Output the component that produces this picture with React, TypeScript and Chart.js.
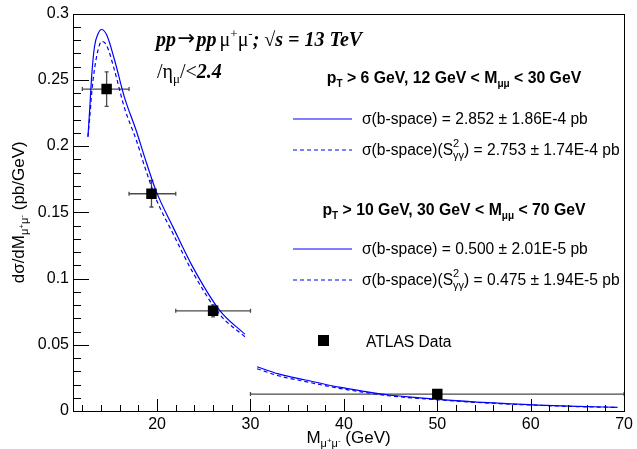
import { useEffect, useRef } from "react";
import { Chart, registerables } from "chart.js";

Chart.register(...registerables);

// ATLAS exclusive dimuon measurement: bin centres, edges, values and errors
const dataMass = [14.6, 19.4, 26, 50];
const dataSigma = [0.243, 0.164, 0.0756, 0.0128];
const dataMassLow = [12, 17, 22, 30];
const dataMassHigh = [17, 22, 30, 70];
const dataSigmaErr = [0.013, 0.01, 0.0045, 0.0008];

// b-space prediction, pT > 6 GeV, 12 < M < 30 GeV
const massLow = [12.6, 12.8, 13.0, 13.3, 13.7, 14.05, 14.6, 15.45, 16.5, 17.8, 18.65, 19.9, 21.7, 23.8, 26.7, 29.4];
const sigmaLow = [0.207, 0.229, 0.253, 0.275, 0.285, 0.288, 0.284, 0.265, 0.237, 0.211, 0.192, 0.166, 0.139, 0.109, 0.076, 0.058];
const sigmaLowS2 = [0.207, 0.222, 0.24, 0.258, 0.273, 0.279, 0.276, 0.257, 0.229, 0.204, 0.185, 0.16, 0.134, 0.105, 0.073, 0.056];

// b-space prediction, pT > 10 GeV, 30 < M < 70 GeV
const massHigh = [30.7, 33, 35.9, 39.5, 42, 44.8, 47.5, 50.1, 55.4, 60.8, 65, 69.3];
const sigmaHigh = [0.0334, 0.028, 0.0234, 0.018, 0.015, 0.0121, 0.0103, 0.0088, 0.0063, 0.0045, 0.0035, 0.0028];
const sigmaHighS2 = [0.0319, 0.0266, 0.0222, 0.0171, 0.0143, 0.0115, 0.0098, 0.0084, 0.006, 0.0043, 0.0033, 0.0027];

// axis ticks
const xTicks = [20, 30, 40, 50, 60, 70];
const yTicks = [0, 0.05, 0.1, 0.15, 0.2, 0.25, 0.3];

// legend numbers
const lowRangeResults = ["2.852 ± 1.86E-4 pb", "2.753 ± 1.74E-4 pb"];
const highRangeResults = ["0.500 ± 2.01E-5 pb", "0.475 ± 1.94E-5 pb"];

const SANS = "'Liberation Sans', Arial, Helvetica, sans-serif";
const SERIF = "'Liberation Serif', 'Times New Roman', serif";
const BLUE = "#0000ff";

type Run = { t: string; f: string; dy?: number; stack?: boolean };

function drawRuns(ctx: CanvasRenderingContext2D, x: number, y: number, runs: Run[], align: "left" | "center" = "left") {
  // lay the runs out left to right; stacked runs share the previous run's x
  const out: number[] = [];
  let cx = 0, prevStart = 0, maxEnd = 0;
  for (const r of runs) {
    ctx.font = r.f;
    const w = ctx.measureText(r.t).width;
    const start = r.stack ? prevStart : Math.max(cx, maxEnd);
    out.push(start);
    maxEnd = Math.max(maxEnd, start + w);
    prevStart = start;
    cx = start + w;
  }
  const x0 = align === "center" ? x - maxEnd / 2 : x;
  ctx.textAlign = "left";
  ctx.textBaseline = "alphabetic";
  runs.forEach((r, i) => {
    ctx.font = r.f;
    ctx.fillText(r.t, x0 + out[i], y + (r.dy || 0));
  });
}

const framePlugin = {
  id: "rootFrame",
  beforeDatasetsDraw(chart: any) {
    const ctx: CanvasRenderingContext2D = chart.ctx;
    const xs = chart.scales.x;
    const ys = chart.scales.y;
    ctx.save();
    ctx.strokeStyle = "#4a4a4a";
    ctx.lineWidth = 1.3;
    for (let i = 0; i < dataMass.length; i++) {
      const px = xs.getPixelForValue(dataMass[i]);
      const py = ys.getPixelForValue(dataSigma[i]);
      const xl = xs.getPixelForValue(dataMassLow[i]);
      const xh = xs.getPixelForValue(dataMassHigh[i]);
      const yt = ys.getPixelForValue(dataSigma[i] + dataSigmaErr[i]);
      const yb = ys.getPixelForValue(dataSigma[i] - dataSigmaErr[i]);
      ctx.beginPath();
      ctx.moveTo(xl, py); ctx.lineTo(xh, py);
      ctx.moveTo(xl, py - 2); ctx.lineTo(xl, py + 2);
      ctx.moveTo(xh, py - 2); ctx.lineTo(xh, py + 2);
      ctx.moveTo(px, yt); ctx.lineTo(px, yb);
      ctx.moveTo(px - 2, yt); ctx.lineTo(px + 2, yt);
      ctx.moveTo(px - 2, yb); ctx.lineTo(px + 2, yb);
      ctx.stroke();
    }
    ctx.restore();
  },
  afterDraw(chart: any) {
    const ctx: CanvasRenderingContext2D = chart.ctx;
    const { left, right, top, bottom } = chart.chartArea;
    const xs = chart.scales.x;
    const ys = chart.scales.y;
    ctx.save();
    ctx.strokeStyle = "#000";
    ctx.lineWidth = 1;
    // frame
    ctx.strokeRect(Math.round(left) + 0.5, Math.round(top) + 0.5, Math.round(right - left), Math.round(bottom - top));
    // y ticks, inside the frame
    ctx.beginPath();
    for (let k = 0; k <= 30; k++) {
      const v = k * 0.01;
      const py = Math.round(ys.getPixelForValue(v)) + 0.5;
      const len = k % 5 === 0 ? 16 : 8;
      ctx.moveTo(left, py); ctx.lineTo(left + len, py);
    }
    // x ticks, inside the frame
    for (let v = 12; v <= 70; v += 2) {
      const px = Math.round(xs.getPixelForValue(v)) + 0.5;
      const len = v % 10 === 0 ? 12 : 6;
      ctx.moveTo(px, bottom); ctx.lineTo(px, bottom - len);
    }
    ctx.stroke();

    ctx.fillStyle = "#000";
    // process label
    const bi20 = `italic bold 20px ${SERIF}`;
    const r20 = `20px ${SERIF}`;
    const r13 = `13px ${SERIF}`;
    const gap = `6px ${SERIF}`;
    drawRuns(ctx, 156, 46, [
      { t: "pp", f: bi20 },
      { t: " ", f: gap },
      { t: "\u2192", f: `21px 'DejaVu Sans', ${SERIF}`, dy: -1 },
      { t: " ", f: gap },
      { t: "pp", f: bi20 },
      { t: "  ", f: gap },
      { t: "\u03bc", f: r20 },
      { t: "+", f: r13, dy: -8 },
      { t: "\u03bc", f: r20 },
      { t: "-", f: r13, dy: -8 },
      { t: "; ", f: bi20 },
      { t: "\u221a", f: r20 },
      { t: "s = 13 TeV", f: bi20 },
    ]);
    drawRuns(ctx, 157, 78, [
      { t: "/\u03b7", f: r20 },
      { t: "\u03bc", f: r13, dy: 5 },
      { t: "/<", f: r20 },
      { t: "2.4", f: bi20 },
    ]);

    // legend blocks
    const b16 = `bold 15.8px ${SANS}`;
    const b10 = `bold 10px ${SANS}`;
    const s16 = `15.6px ${SANS}`;
    const s11 = `11px ${SANS}`;
    const header = (y: number, pt: string, lo: string, hi: string) =>
      drawRuns(ctx, 454, y, [
        { t: "p", f: b16 },
        { t: "T", f: b10, dy: 4 },
        { t: ` > ${pt} GeV, ${lo} GeV < M`, f: b16 },
        { t: "\u03bc\u03bc", f: b10, dy: 4 },
        { t: ` < ${hi} GeV`, f: b16 },
      ], "center");
    const entry = (y: number, dashed: boolean, result: string) => {
      ctx.save();
      ctx.strokeStyle = BLUE;
      ctx.lineWidth = 1.2;
      ctx.setLineDash(dashed ? [4, 3] : []);
      ctx.beginPath();
      ctx.moveTo(293, y - 5);
      ctx.lineTo(352, y - 5);
      ctx.stroke();
      ctx.restore();
      if (!dashed) {
        drawRuns(ctx, 362, y, [{ t: `\u03c3(b-space) = ${result}`, f: s16 }]);
      } else {
        drawRuns(ctx, 362, y, [
          { t: "\u03c3(b-space)(S", f: s16 },
          { t: "2", f: s11, dy: -8 },
          { t: "\u03b3\u03b3", f: s11, dy: 4, stack: true },
          { t: `) = ${result}`, f: s16 },
        ]);
      }
    };
    header(83, "6", "12", "30");
    entry(124, false, lowRangeResults[0]);
    entry(155, true, lowRangeResults[1]);
    header(215, "10", "30", "70");
    entry(254, false, highRangeResults[0]);
    entry(285, true, highRangeResults[1]);

    // data legend
    ctx.fillStyle = "#000";
    ctx.fillRect(318, 335, 11, 11);
    drawRuns(ctx, 366, 347, [{ t: "ATLAS Data", f: s16 }]);

    // axis titles
    const t17 = `17px ${SANS}`;
    const t11 = `11px ${SANS}`;
    const t8 = `8px ${SANS}`;
    drawRuns(ctx, (left + right) / 2, 443, [
      { t: "M", f: t17 },
      { t: "\u03bc", f: t11, dy: 4 },
      { t: "+", f: t8, dy: 0 },
      { t: "\u03bc", f: t11, dy: 4 },
      { t: "-", f: t8, dy: 0 },
      { t: " (GeV)", f: t17 },
    ], "center");
    ctx.save();
    ctx.translate(24, (top + bottom) / 2);
    ctx.rotate(-Math.PI / 2);
    drawRuns(ctx, 0, 0, [
      { t: "d\u03c3/dM", f: t17 },
      { t: "\u03bc", f: t11, dy: 4 },
      { t: "+", f: t8, dy: 0 },
      { t: "\u03bc", f: t11, dy: 4 },
      { t: "-", f: t8, dy: 0 },
      { t: " (pb/GeV)", f: t17 },
    ], "center");
    ctx.restore();
    ctx.restore();
  },
};

export default function App() {
  const canvasRef = useRef<HTMLCanvasElement | null>(null);

  useEffect(() => {
    document.body.style.margin = "0";
    const canvas = canvasRef.current;
    if (!canvas) return;
    const pts = (xs: number[], ys: number[]) => xs.map((x, i) => ({ x, y: ys[i] }));
    const curve = (label: string, xs: number[], ys: number[], dashed: boolean) => ({
      label,
      data: pts(xs, ys),
      borderColor: BLUE,
      borderWidth: 1.2,
      borderDash: dashed ? [4, 3] : [],
      pointRadius: 0,
      fill: false,
      cubicInterpolationMode: "monotone" as const,
    });
    const chart = new Chart(canvas, {
      type: "line",
      data: {
        datasets: [
          {
            type: "scatter",
            label: "ATLAS Data",
            data: pts(dataMass, dataSigma),
            pointStyle: "rect",
            pointRadius: 7.4,
            pointBackgroundColor: "#000",
            pointBorderColor: "#000",
            pointBorderWidth: 0,
            showLine: false,
          } as any,
          curve("σ(b-space) 12–30 GeV", massLow, sigmaLow, false),
          curve("σ(b-space)(S²) 12–30 GeV", massLow, sigmaLowS2, true),
          curve("σ(b-space) 30–70 GeV", massHigh, sigmaHigh, false),
          curve("σ(b-space)(S²) 30–70 GeV", massHigh, sigmaHighS2, true),
        ],
      },
      options: {
        animation: false,
        responsive: false,
        devicePixelRatio: 1,
        layout: { padding: { top: 13, right: 11, left: 0, bottom: 0 } },
        plugins: { legend: { display: false }, tooltip: { enabled: false } },
        scales: {
          x: {
            type: "linear",
            min: 11,
            max: 70,
            grid: { display: false, drawTicks: false },
            border: { display: false },
            ticks: {
              padding: 4,
              color: "#000",
              font: { size: 16, family: SANS },
              maxRotation: 0,
              autoSkip: false,
              callback: (v: any) => String(v),
            },
            afterBuildTicks: (s: any) => {
              s.ticks = xTicks.map((value) => ({ value }));
            },
            afterFit: (s: any) => {
              s.height = 38;
            },
          },
          y: {
            type: "linear",
            min: 0,
            max: 0.3,
            grid: { display: false, drawTicks: false },
            border: { display: false },
            ticks: {
              padding: 4,
              color: "#000",
              font: { size: 16, family: SANS },
              autoSkip: false,
              callback: (v: any) => String(+Number(v).toFixed(2)),
            },
            afterBuildTicks: (s: any) => {
              s.ticks = yTicks.map((value) => ({ value }));
            },
            afterFit: (s: any) => {
              s.width = 73;
            },
          },
        },
      },
      plugins: [framePlugin],
    });
    return () => chart.destroy();
  }, []);

  return (
    <div style={{ width: 637, height: 449, background: "#fff" }}>
      <canvas ref={canvasRef} width={637} height={449} style={{ display: "block" }} />
    </div>
  );
}
